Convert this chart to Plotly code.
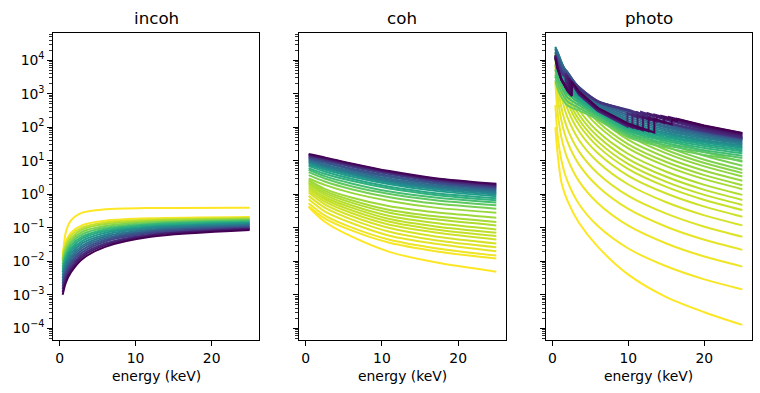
import plotly.graph_objects as go
from plotly.colors import sample_colorscale

W, H = 760, 393
Z_MAX = 83

# ---------------- incoh (log10 of cross-section, cm^2/g) ----------------
INCOH_E = [0.4, 0.8, 1.5, 3, 6, 12, 25]
INCOH_Z = [1, 2, 7, 12, 17, 22, 28, 33, 39, 44, 50, 55, 61, 66, 72, 77, 83]
INCOH_LOG10 = [
    [-1.95, -1.15, -0.78, -0.55, -0.45, -0.41, -0.40],
    [-1.75, -1.42, -1.15, -0.92, -0.79, -0.72, -0.68],
    [-1.83, -1.50, -1.23, -0.99, -0.84, -0.76, -0.71],
    [-1.92, -1.58, -1.31, -1.05, -0.89, -0.79, -0.73],
    [-2.00, -1.67, -1.39, -1.12, -0.95, -0.83, -0.76],
    [-2.08, -1.75, -1.46, -1.19, -1.00, -0.87, -0.78],
    [-2.17, -1.83, -1.54, -1.26, -1.05, -0.90, -0.81],
    [-2.25, -1.91, -1.62, -1.32, -1.10, -0.94, -0.84],
    [-2.33, -1.99, -1.70, -1.39, -1.15, -0.98, -0.86],
    [-2.42, -2.08, -1.78, -1.46, -1.21, -1.01, -0.89],
    [-2.50, -2.16, -1.86, -1.53, -1.26, -1.05, -0.91],
    [-2.58, -2.24, -1.94, -1.59, -1.31, -1.09, -0.94],
    [-2.67, -2.32, -2.02, -1.66, -1.36, -1.12, -0.97],
    [-2.75, -2.40, -2.09, -1.73, -1.41, -1.16, -0.99],
    [-2.83, -2.48, -2.17, -1.80, -1.47, -1.20, -1.02],
    [-2.92, -2.57, -2.25, -1.86, -1.52, -1.23, -1.04],
    [-3.00, -2.65, -2.33, -1.93, -1.57, -1.27, -1.07],
]

# ---------------- coh ----------------
COH_E = [0.4, 2.5, 6, 11, 17, 25]
COH_Z = [1, 2, 3, 4, 5, 6, 7, 8, 9, 10, 11, 12, 13,
         14, 18, 22, 26, 30, 34, 38, 42, 46, 50, 54, 58, 62, 66, 70, 74, 78, 82]
COH_LOG10 = [
    [-0.38, -0.82, -1.26, -1.72, -2.03, -2.31],
    [-0.36, -0.72, -1.08, -1.45, -1.70, -1.92],
    [-0.27, -0.63, -0.99, -1.36, -1.61, -1.83],
    [-0.15, -0.51, -0.86, -1.24, -1.48, -1.70],
    [-0.05, -0.40, -0.75, -1.12, -1.37, -1.58],
    [0.05, -0.30, -0.65, -1.01, -1.26, -1.47],
    [0.12, -0.22, -0.56, -0.91, -1.14, -1.35],
    [0.18, -0.15, -0.48, -0.82, -1.05, -1.25],
    [0.23, -0.09, -0.40, -0.74, -0.96, -1.15],
    [0.29, -0.02, -0.33, -0.65, -0.86, -1.05],
    [0.33, 0.04, -0.25, -0.55, -0.75, -0.93],
    [0.38, 0.10, -0.18, -0.47, -0.66, -0.83],
    [0.42, 0.16, -0.10, -0.36, -0.54, -0.70],
    [0.47, 0.28, 0.04, -0.20, -0.40, -0.55],
    [0.57, 0.38, 0.15, -0.09, -0.28, -0.43],
    [0.66, 0.47, 0.24, 0.01, -0.18, -0.33],
    [0.73, 0.54, 0.32, 0.08, -0.10, -0.25],
    [0.78, 0.61, 0.40, 0.17, -0.02, -0.18],
    [0.84, 0.68, 0.46, 0.22, 0.03, -0.12],
    [0.88, 0.74, 0.53, 0.30, 0.10, -0.06],
    [0.92, 0.78, 0.58, 0.34, 0.15, -0.01],
    [0.96, 0.82, 0.62, 0.38, 0.19, 0.03],
    [0.99, 0.85, 0.65, 0.42, 0.23, 0.07],
    [1.03, 0.89, 0.69, 0.46, 0.27, 0.11],
    [1.06, 0.94, 0.74, 0.51, 0.31, 0.14],
    [1.08, 0.97, 0.77, 0.55, 0.34, 0.18],
    [1.11, 1.01, 0.82, 0.60, 0.38, 0.21],
    [1.13, 1.03, 0.85, 0.62, 0.41, 0.24],
    [1.16, 1.06, 0.87, 0.65, 0.43, 0.26],
    [1.18, 1.08, 0.90, 0.67, 0.46, 0.29],
    [1.20, 1.10, 0.92, 0.69, 0.48, 0.31],
]

# ---------------- photo (smooth curves) ----------------
PHOTO_E = [0.4, 0.7, 1.2, 2, 3.5, 6, 10, 15, 20, 25]
PHOTO_Z = list(range(1, 20)) + [20, 23, 26, 29, 32, 35, 38, 41, 44, 47, 50, 53, 56, 59, 62, 65, 68, 71]
PHOTO_LOG10 = [
    [2.00, 1.20, 0.35, -0.20, -0.85, -1.57, -2.40, -3.07, -3.52, -3.90],
    [2.66, 1.76, 1.01, 0.38, -0.29, -0.95, -1.62, -2.15, -2.54, -2.84],
    [3.34, 2.44, 1.69, 1.06, 0.39, -0.27, -0.94, -1.47, -1.86, -2.16],
    [3.84, 2.94, 2.19, 1.56, 0.89, 0.23, -0.44, -0.97, -1.36, -1.66],
    [4.10, 3.33, 2.58, 1.95, 1.28, 0.62, -0.05, -0.58, -0.97, -1.27],
    [4.20, 3.67, 2.92, 2.29, 1.62, 0.96, 0.29, -0.24, -0.63, -0.93],
    [4.15, 3.93, 3.18, 2.55, 1.88, 1.22, 0.55, 0.02, -0.37, -0.67],
    [4.10, 3.95, 3.38, 2.75, 2.08, 1.42, 0.75, 0.22, -0.17, -0.47],
    [4.00, 3.90, 3.53, 2.90, 2.23, 1.57, 0.90, 0.37, -0.02, -0.32],
    [3.90, 3.80, 3.68, 3.05, 2.38, 1.72, 1.05, 0.52, 0.13, -0.17],
    [3.80, 3.70, 3.60, 3.20, 2.53, 1.87, 1.20, 0.67, 0.28, -0.02],
    [3.70, 3.60, 3.50, 3.37, 2.70, 2.04, 1.37, 0.84, 0.45, 0.15],
    [3.60, 3.50, 3.40, 3.30, 2.82, 2.16, 1.49, 0.96, 0.57, 0.27],
    [3.60, 3.50, 3.40, 3.20, 2.85, 2.29, 1.62, 1.09, 0.70, 0.40],
    [3.50, 3.40, 3.30, 3.10, 2.80, 2.42, 1.75, 1.22, 0.83, 0.53],
    [3.50, 3.40, 3.30, 3.10, 2.80, 2.52, 1.85, 1.32, 0.93, 0.63],
    [3.50, 3.40, 3.30, 3.10, 2.80, 2.60, 1.95, 1.42, 1.03, 0.73],
    [3.50, 3.40, 3.30, 3.10, 2.80, 2.65, 2.07, 1.54, 1.15, 0.85],
    [3.50, 3.40, 3.30, 3.10, 2.80, 2.70, 2.19, 1.66, 1.27, 0.97],
    [3.40, 3.15, 2.90, 2.65, 2.50, 2.22, 1.70, 1.39, 1.17, 1.00],
    [3.56, 3.32, 3.05, 2.77, 2.58, 2.28, 1.76, 1.46, 1.25, 1.08],
    [3.72, 3.48, 3.20, 2.89, 2.66, 2.34, 1.82, 1.52, 1.31, 1.15],
    [3.87, 3.63, 3.35, 3.00, 2.73, 2.39, 1.88, 1.59, 1.38, 1.22],
    [4.00, 3.77, 3.49, 3.11, 2.80, 2.44, 1.93, 1.64, 1.44, 1.28],
    [4.12, 3.90, 3.62, 3.21, 2.86, 2.48, 1.98, 1.69, 1.49, 1.33],
    [4.24, 4.02, 3.74, 3.30, 2.92, 2.52, 2.03, 1.74, 1.54, 1.38],
    [4.33, 4.12, 3.84, 3.38, 2.97, 2.56, 2.08, 1.79, 1.58, 1.42],
    [4.40, 4.20, 3.91, 3.45, 3.02, 2.59, 2.13, 1.83, 1.62, 1.46],
    [4.38, 4.25, 3.95, 3.52, 3.06, 2.62, 2.18, 1.88, 1.67, 1.50],
    [4.34, 4.22, 3.93, 3.58, 3.10, 2.65, 2.24, 1.93, 1.71, 1.54],
    [4.30, 4.18, 3.90, 3.62, 3.13, 2.68, 2.30, 1.98, 1.75, 1.57],
    [4.25, 4.13, 3.86, 3.65, 3.16, 2.71, 2.36, 2.02, 1.79, 1.60],
    [4.21, 4.08, 3.81, 3.63, 3.18, 2.74, 2.42, 2.07, 1.82, 1.63],
    [4.17, 4.03, 3.76, 3.59, 3.20, 2.76, 2.47, 2.11, 1.85, 1.65],
    [4.14, 3.98, 3.71, 3.54, 3.20, 2.78, 2.50, 2.13, 1.87, 1.67],
    [4.12, 3.94, 3.66, 3.49, 3.18, 2.78, 2.52, 2.15, 1.88, 1.68],
    [4.11, 3.90, 3.61, 3.44, 3.15, 2.76, 2.50, 2.14, 1.89, 1.69],
]

# ---------------- photo (heavy elements with absorption edges) ----------------
EDGE_Z = [73, 75, 77, 79, 81, 83]
EDGE_E = [
    [0.4, 0.7, 1.2, 1.74, 1.74, 3.5, 6, 9.88, 9.88, 11.14, 11.14, 11.68, 11.68, 15, 20, 25],
    [0.4, 0.7, 1.2, 1.88, 1.88, 3.5, 6, 10, 10.54, 10.54, 11.96, 11.96, 12.53, 12.53, 15, 20, 25],
    [0.4, 0.7, 1.2, 2.04, 2.04, 3.5, 6, 10, 11.22, 11.22, 12.82, 12.82, 13.42, 13.42, 20, 25],
    [0.4, 0.7, 1.2, 2.0, 2.21, 2.21, 3.5, 6, 10, 11.92, 11.92, 13.73, 13.73, 14.35, 14.35, 20, 25],
    [0.4, 0.7, 1.2, 2.0, 2.39, 2.39, 3.5, 6, 10, 12.66, 12.66, 14.70, 14.70, 15.35, 15.35, 20, 25],
    [0.4, 0.7, 1.2, 2.0, 2.58, 2.58, 3.5, 6, 10, 13.42, 13.42, 15.71, 15.71, 16.39, 16.39, 20, 25],
]
EDGE_LOG10 = [
    [4.15, 3.79, 3.45, 3.19, 3.61, 2.97, 2.48, 2.02, 2.42, 2.30, 2.45, 2.40, 2.46, 2.21, 1.92, 1.70],
    [4.13, 3.78, 3.44, 3.14, 3.56, 2.99, 2.50, 2.03, 1.99, 2.39, 2.26, 2.41, 2.36, 2.42, 2.24, 1.95, 1.73],
    [4.11, 3.77, 3.43, 3.08, 3.50, 3.01, 2.52, 2.05, 1.95, 2.35, 2.22, 2.37, 2.32, 2.38, 1.98, 1.76],
    [4.09, 3.75, 3.42, 3.10, 3.03, 3.45, 3.03, 2.54, 2.07, 1.91, 2.31, 2.17, 2.32, 2.28, 2.34, 2.01, 1.79],
    [4.07, 3.73, 3.40, 3.09, 2.98, 3.40, 3.05, 2.56, 2.09, 1.88, 2.28, 2.13, 2.28, 2.24, 2.30, 2.04, 1.82],
    [4.05, 3.75, 3.42, 3.08, 2.93, 3.35, 3.07, 2.58, 2.11, 1.84, 2.24, 2.08, 2.23, 2.19, 2.25, 2.05, 1.83],
]

PANEL_TITLES = ["incoh", "coh", "photo"]
X_LABEL = "energy (keV)"
X_TICKS = [0, 10, 20]
Y_TICK_EXP = [-4, -3, -2, -1, 0, 1, 2, 3, 4]


def zcolor(z):
    t = 1.0 - (z - 1) / (Z_MAX - 1)
    return sample_colorscale("Viridis", [t])[0]


fig = go.Figure()
LW = 2.0


def add_curve(xs, logs, z, axis_idx, shape="spline"):
    sfx = "" if axis_idx == 1 else str(axis_idx)
    line = dict(color=zcolor(z), width=LW, shape=shape)
    if shape == "spline":
        line["smoothing"] = 0.8
    fig.add_trace(go.Scatter(
        x=xs, y=[10 ** v for v in logs], mode="lines", line=line,
        xaxis="x" + sfx, yaxis="y" + sfx, showlegend=False, hoverinfo="skip"))


for z, row in zip(INCOH_Z, INCOH_LOG10):
    add_curve(INCOH_E, row, z, 1)
for z, row in zip(COH_Z, COH_LOG10):
    add_curve(COH_E, row, z, 2)
for z, row in zip(PHOTO_Z, PHOTO_LOG10):
    add_curve(PHOTO_E, row, z, 3)
for z, es, row in zip(EDGE_Z, EDGE_E, EDGE_LOG10):
    add_curve(es, row, z, 3, shape="linear")

FONT = "DejaVu Sans"
FS = 13.9
x_doms = [[53.3 / W, 259 / W], [299.3 / W, 505.7 / W], [546 / W, 751.7 / W]]
y_dom = [(H - 340) / H, (H - 32.7) / H]

minor_vals = [k * 10.0 ** n for n in range(-5, 5) for k in range(2, 10)]

layout = dict(
    width=W, height=H, autosize=False,
    margin=dict(l=0, r=0, t=0, b=0),
    paper_bgcolor="white", plot_bgcolor="white",
    font=dict(family=FONT, size=FS, color="black"),
    showlegend=False,
)
for i in range(3):
    sfx = "" if i == 0 else str(i + 1)
    layout["xaxis" + sfx] = dict(
        domain=x_doms[i], anchor="y" + sfx, range=[-0.83, 26.23],
        tickvals=X_TICKS, ticktext=[str(v) for v in X_TICKS],
        ticks="outside", ticklen=4.9, tickwidth=1.1, tickcolor="black",
        showline=True, mirror=True, linecolor="black", linewidth=1.1,
        showgrid=False, zeroline=False,
        tickfont=dict(family=FONT, size=FS, color="black"),
    )
    ydict = dict(
        domain=y_dom, anchor="x" + sfx, type="log", range=[-4.35, 4.82],
        tickmode="array", tickvals=[10.0 ** e for e in Y_TICK_EXP],
        ticks="outside", ticklen=4.9, tickwidth=1.1, tickcolor="black",
        minor=dict(tickmode="array", tickvals=minor_vals, ticks="outside",
                   ticklen=2.8, tickwidth=0.8, tickcolor="black", showgrid=False),
        showline=True, mirror=True, linecolor="black", linewidth=1.1,
        showgrid=False, zeroline=False,
        tickfont=dict(family=FONT, size=FS, color="black"),
    )
    if i == 0:
        ydict["ticktext"] = ["10<sup>%s</sup>" % (str(e).replace("-", "\u2212")) for e in Y_TICK_EXP]
    else:
        ydict["showticklabels"] = False
    layout["yaxis" + sfx] = ydict

annotations = []
for i in range(3):
    xc = (x_doms[i][0] + x_doms[i][1]) / 2
    annotations.append(dict(text=PANEL_TITLES[i], x=xc, y=(H - 18) / H, xref="paper", yref="paper",
                            showarrow=False, xanchor="center", yanchor="middle",
                            font=dict(family=FONT, size=16.7, color="black")))
    annotations.append(dict(text=X_LABEL, x=xc, y=(H - 376) / H, xref="paper", yref="paper",
                            showarrow=False, xanchor="center", yanchor="middle",
                            font=dict(family=FONT, size=FS, color="black")))
layout["annotations"] = annotations
fig.update_layout(**layout)
fig.write_html("out.html", config={"displayModeBar": False, "staticPlot": True},
               post_script="document.body.style.margin='0';document.body.style.overflow='hidden';")
